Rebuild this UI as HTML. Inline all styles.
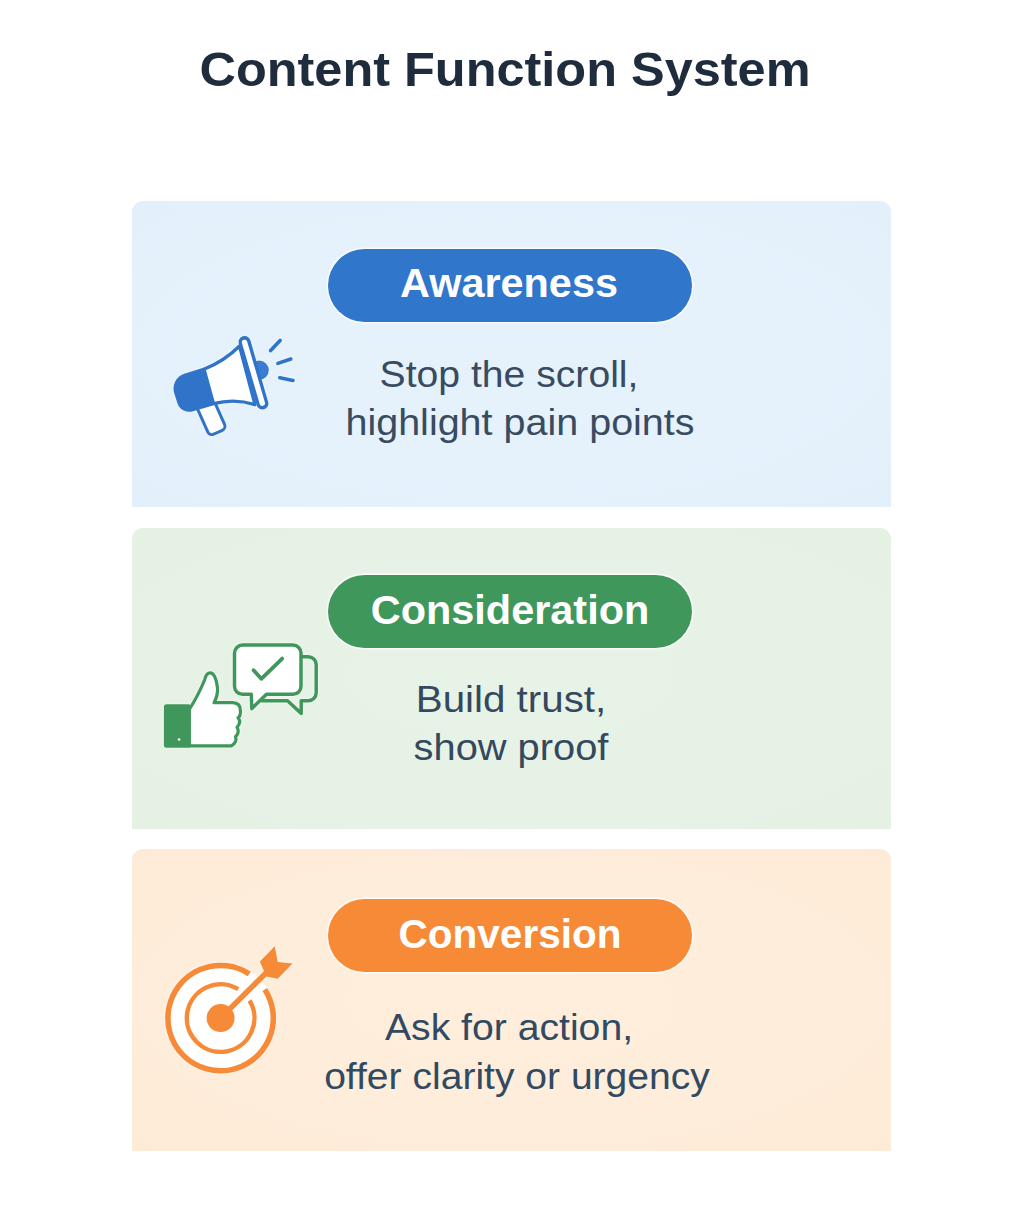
<!DOCTYPE html>
<html lang="en">
<head>
<meta charset="utf-8">
<title>Content Function System</title>
<style>
  html, body { margin: 0; padding: 0; }
  body {
    width: 1024px; height: 1210px; position: relative; overflow: hidden;
    background: #ffffff;
    font-family: "Liberation Sans", sans-serif;
  }
  .card { position: absolute; left: 132px; width: 758.5px; border-radius: 11px 11px 0 0; }
  .c1 { top: 201px; height: 305.5px; background: radial-gradient(ellipse at 50% 50%, #e6f2fb 0%, #e5f1fb 60%, #e3effa 100%); }
  .c2 { top: 527.5px; height: 301.5px; background: radial-gradient(ellipse at 50% 50%, #e8f3e7 0%, #e6f2e5 60%, #e4f1e3 100%); }
  .c3 { top: 848.5px; height: 302.5px; background: radial-gradient(ellipse at 50% 50%, #ffeedc 0%, #feeddb 60%, #feebd7 100%); }

  .pill { position: absolute; left: 328px; width: 363.5px; height: 73.2px; border-radius: 37px;
          box-shadow: 0 0 0 1.6px rgba(255,255,255,0.78); }
  .p1 { top: 249px; background: #3076ca; }
  .p2 { top: 575px; background: #40975b; }
  .p3 { top: 899px; background: #f68a37; }

  .t { position: absolute; white-space: nowrap; line-height: 1; transform-origin: 50% 50%; }
  .title { font-weight: bold; font-size: 48px; color: #1f2c3d; }
  .lbl { font-weight: bold; font-size: 40px; color: #ffffff; }
  .body { font-weight: normal; font-size: 36px; color: #394b60; }
</style>
</head>
<body>

<div class="card c1"></div>
<div class="card c2"></div>
<div class="card c3"></div>

<div class="pill p1"></div>
<div class="pill p2"></div>
<div class="pill p3"></div>

<!-- text: each is centred on left via translateX(-50%) then stretched with scaleX -->
<div class="t title" style="left:505.2px; top:45.6px; transform:translateX(-50%) scaleX(1.051);">Content Function System</div>

<div class="t lbl" style="left:508.8px; top:263.2px; transform:translateX(-50%) scaleX(1.035);">Awareness</div>
<div class="t lbl" style="left:509.5px; top:589.8px; transform:translateX(-50%) scaleX(1.036);">Consideration</div>
<div class="t lbl" style="left:509.6px; top:913.8px; transform:translateX(-50%) scaleX(1.014);">Conversion</div>

<div class="t body" style="left:508.5px; top:357px; transform:translateX(-50%) scaleX(1.087);">Stop the scroll,</div>
<div class="t body" style="left:520.4px; top:405px; transform:translateX(-50%) scaleX(1.097);">highlight pain points</div>

<div class="t body" style="color:#34495d; left:511.2px; top:682px; transform:translateX(-50%) scaleX(1.12);">Build trust,</div>
<div class="t body" style="color:#34495d; left:511.1px; top:730px; transform:translateX(-50%) scaleX(1.106);">show proof</div>

<div class="t body" style="color:#314a62; left:508.9px; top:1009.5px; transform:translateX(-50%) scaleX(1.0875);">Ask for action,</div>
<div class="t body" style="color:#314a62; left:517.2px; top:1059px; transform:translateX(-50%) scaleX(1.085);">offer clarity or urgency</div>

<!-- ICONS -->
<svg id="icons" width="1024" height="1210" viewBox="0 0 1024 1210"
     style="position:absolute; left:0; top:0;">

  <!-- ============ MEGAPHONE ============ -->
  <g id="megaphone" style="filter:drop-shadow(0 0 0.9px rgba(255,255,255,0.95))">
    <circle cx="259.2" cy="370.2" r="9.6" fill="#3a7ccf"/>
    <g transform="translate(218.6,433.6) rotate(-24)">
      <rect x="-9.2" y="-36" width="18.4" height="34.5" rx="4.5" fill="#ffffff" stroke="#2f74c9" stroke-width="3"/>
    </g>
    <path d="M239.5 346 Q224.5 361 204 369.3 L213.5 403.6 Q234.5 398 255 404.6 Z" fill="#ffffff" stroke="#2f74c9" stroke-width="3.3" stroke-linejoin="round"/>
    <path d="M204 367.4 L184.2 373.8 A15.5 15.5 0 0 0 174.3 393.4 L177.4 403.2 A12.5 12.5 0 0 0 193.2 411.2 L213.8 405.2 Z" fill="#2f74c9"/>
    <line x1="244.6" y1="342" x2="262.4" y2="403.6" stroke="#2f74c9" stroke-width="12" stroke-linecap="round"/>
    <line x1="244.6" y1="342.4" x2="262.3" y2="403.2" stroke="#ffffff" stroke-width="5.4" stroke-linecap="round"/>
    <g stroke="#2f74c9" stroke-width="3.6" stroke-linecap="round">
      <line x1="270.6" y1="350.6" x2="280.1" y2="340.4"/>
      <line x1="277.9" y1="363.4" x2="290.8" y2="359"/>
      <line x1="279.8" y1="377.7" x2="293" y2="380.4"/>
    </g>
  </g>

  <!-- ============ THUMB + CHAT ============ -->
  <g id="thumbchat" style="filter:drop-shadow(0 0 0.9px rgba(255,255,255,0.95))" fill="none" stroke="#40975b" stroke-width="3.5" stroke-linejoin="round" stroke-linecap="round">
    <path d="M296 656.7 H308 A8 8 0 0 1 316.2 664.7 V692.8 A8 8 0 0 1 308 700.8 H301.2 V713.4 L287.5 700.8 H262"/>
    <path d="M242.5 645.1 H293 A8 8 0 0 1 301 653.1 V686.3 A8 8 0 0 1 293 694.3 H266.5 L251.8 708.6 L251.3 694.3 H242.5 A8 8 0 0 1 234.5 686.3 V653.1 A8 8 0 0 1 242.5 645.1 Z" fill="#ffffff"/>
    <polyline points="253.6,670.2 261.3,678.8 282.2,658.6" stroke-width="3.8"/>
    <path d="M189 710 Q199 694 204.8 679.5 Q206.2 672.6 210.6 672.8 Q215.8 674 217.5 688 Q218 695.5 214 702.7 L232.5 702.7 Q240.6 703 240.4 710.5 Q240.8 716 238 717.8 Q241.8 722.2 237 727.3 Q240.2 732 235.5 736.7 Q237.6 742 231.4 745.8 L189 745.8 Z" fill="#ffffff" stroke-width="3.2"/>
    <rect x="163.9" y="704.2" width="27" height="43.6" rx="2.5" fill="#40975b" stroke="none"/>
    <circle cx="179.1" cy="739.5" r="1.3" fill="#ffffff" stroke="none"/>
  </g>

  <!-- ============ TARGET ============ -->
  <g id="target" style="filter:drop-shadow(0 0 0.9px rgba(255,255,255,0.95))">
    <circle cx="220.6" cy="1018.1" r="55" fill="#ffffff"/>
    <path d="M264.8 989.4 A52.7 52.7 0 1 1 249.3 973.9" fill="none" stroke="#f68a37" stroke-width="5.5"/>
    <path d="M249.5 1000.5 A33.8 33.8 0 1 1 238.2 989.2" fill="none" stroke="#f68a37" stroke-width="4.4"/>
    <circle cx="220.6" cy="1018.1" r="14" fill="#f68a37"/>
    <line x1="220.6" y1="1018.1" x2="267" y2="972" stroke="#f68a37" stroke-width="5.5"/>
    <polygon points="274.7,946.3 277.8,961.9 292.5,963.6 277.8,978.8 266.4,976.4 259.8,961.6" fill="#f68a37"/>
  </g>
</svg>

</body>
</html>
